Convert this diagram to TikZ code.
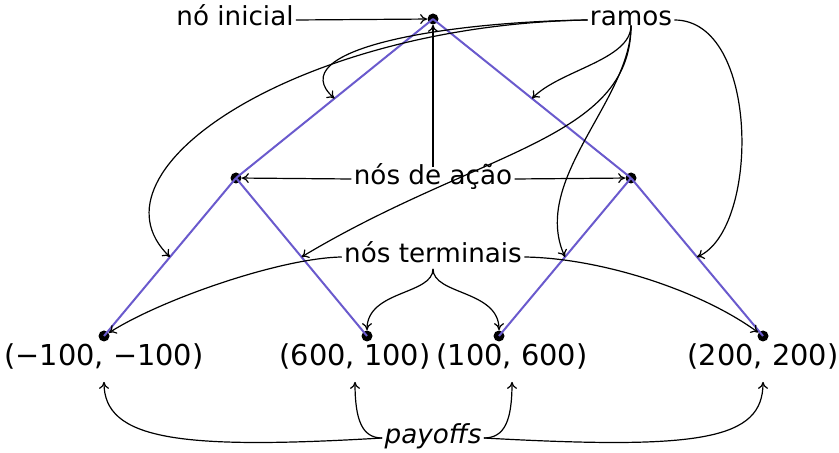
\documentclass[tikz,border=0pt]{standalone}
\usepackage{fontspec}
\setmainfont{DejaVu Sans}
\usetikzlibrary{calc,arrows.meta}
\definecolor{treeblue}{RGB}{106,90,205}
\begin{document}
\begin{tikzpicture}[x=0.5pt,y=-0.5pt,
  gamenode/.style={circle,fill=black,inner sep=0pt,minimum size=5.5pt},
  lbl/.style={inner sep=1pt,text height=0.75em,text depth=0.2em,font=\fontsize{13.1}{15}\selectfont},
  pay/.style={inner xsep=1pt,inner ysep=6pt,text height=0.75em,text depth=0.2em,font=\fontsize{14.4}{17}\selectfont},
  branch/.style={draw=treeblue,line width=1pt},
  conn/.style={draw=black,line width=0.6pt,-{To[length=3.5pt,width=5pt]}},
]
\useasboundingbox (0,0) rectangle (839,453);
% tree nodes
\node[gamenode] (root) at (433,19) {};
\node[gamenode] (A) at (236,178) {};
\node[gamenode] (B) at (631,178) {};
\node[gamenode] (T1) at (104,336) {};
\node[gamenode] (T2) at (367,336) {};
\node[gamenode] (T3) at (499,336) {};
\node[gamenode] (T4) at (763,336) {};
% branches
\draw[branch] (root.center) -- (A.center);
\draw[branch] (root.center) -- (B.center);
\draw[branch] (A.center) -- (T1.center);
\draw[branch] (A.center) -- (T2.center);
\draw[branch] (B.center) -- (T3.center);
\draw[branch] (B.center) -- (T4.center);
\coordinate (mRA) at ($(root)!0.5!(A)$);
\coordinate (mRB) at ($(root)!0.5!(B)$);
\coordinate (mA1) at ($(A)!0.5!(T1)$);
\coordinate (mA2) at ($(A)!0.5!(T2)$);
\coordinate (mB3) at ($(B)!0.5!(T3)$);
\coordinate (mB4) at ($(B)!0.5!(T4)$);
% labels
\node[lbl] (inicial) at (235,20) {nó inicial};
\node[lbl] (ramos) at (631,20) {ramos};
\node[lbl] (acao) at (433,179) {nós de ação};
\node[lbl] (term) at (433,257) {nós terminais};
\node[lbl,font=\fontsize{13.1}{15}\selectfont\itshape] (payoffs) at (433,438) {payoffs};
\node[pay] (p1) at (104,360) {(−100, −100)};
\node[pay] (p2) at (355,360) {(600, 100)};
\node[pay] (p3) at (512,360) {(100, 600)};
\node[pay] (p4) at (763,360) {(200, 200)};
% connectors
\draw[conn] (inicial.east) -- (root);
\draw[conn] (ramos.west) .. controls (440,22) and (280,50) .. (mRA);
\draw[conn] (ramos.west) .. controls (300,25) and (80,170) .. (mA1);
\draw[conn] (ramos.base) .. controls (631,60) and (560,70) .. (mRB);
\draw[conn] (ramos.base) .. controls (631,140) and (480,150) .. (mA2);
\draw[conn] (ramos.base) .. controls (631,100) and (530,180) .. (mB3);
\draw[conn] (ramos.east) .. controls (760,20) and (760,230) .. (mB4);
\draw[conn] (acao.west) -- (A);
\draw[conn] (acao.east) -- (B);
\draw[conn] (acao.north) -- (root);
\draw[conn] (term.west) .. controls (280,258) and (160,300) .. (T1);
\draw[conn] (term.south) .. controls (433,295) and (367,290) .. (T2);
\draw[conn] (term.south) .. controls (433,295) and (499,290) .. (T3);
\draw[conn] (term.east) .. controls (600,258) and (700,290) .. (T4);
\draw[conn] (payoffs.west) .. controls (180,450) and (104,440) .. (p1.south);
\draw[conn] (payoffs.west) .. controls (362,438) and (355,420) .. (p2.south);
\draw[conn] (payoffs.east) .. controls (505,438) and (512,420) .. (p3.south);
\draw[conn] (payoffs.east) .. controls (700,450) and (763,440) .. (p4.south);
\end{tikzpicture}
\end{document}
